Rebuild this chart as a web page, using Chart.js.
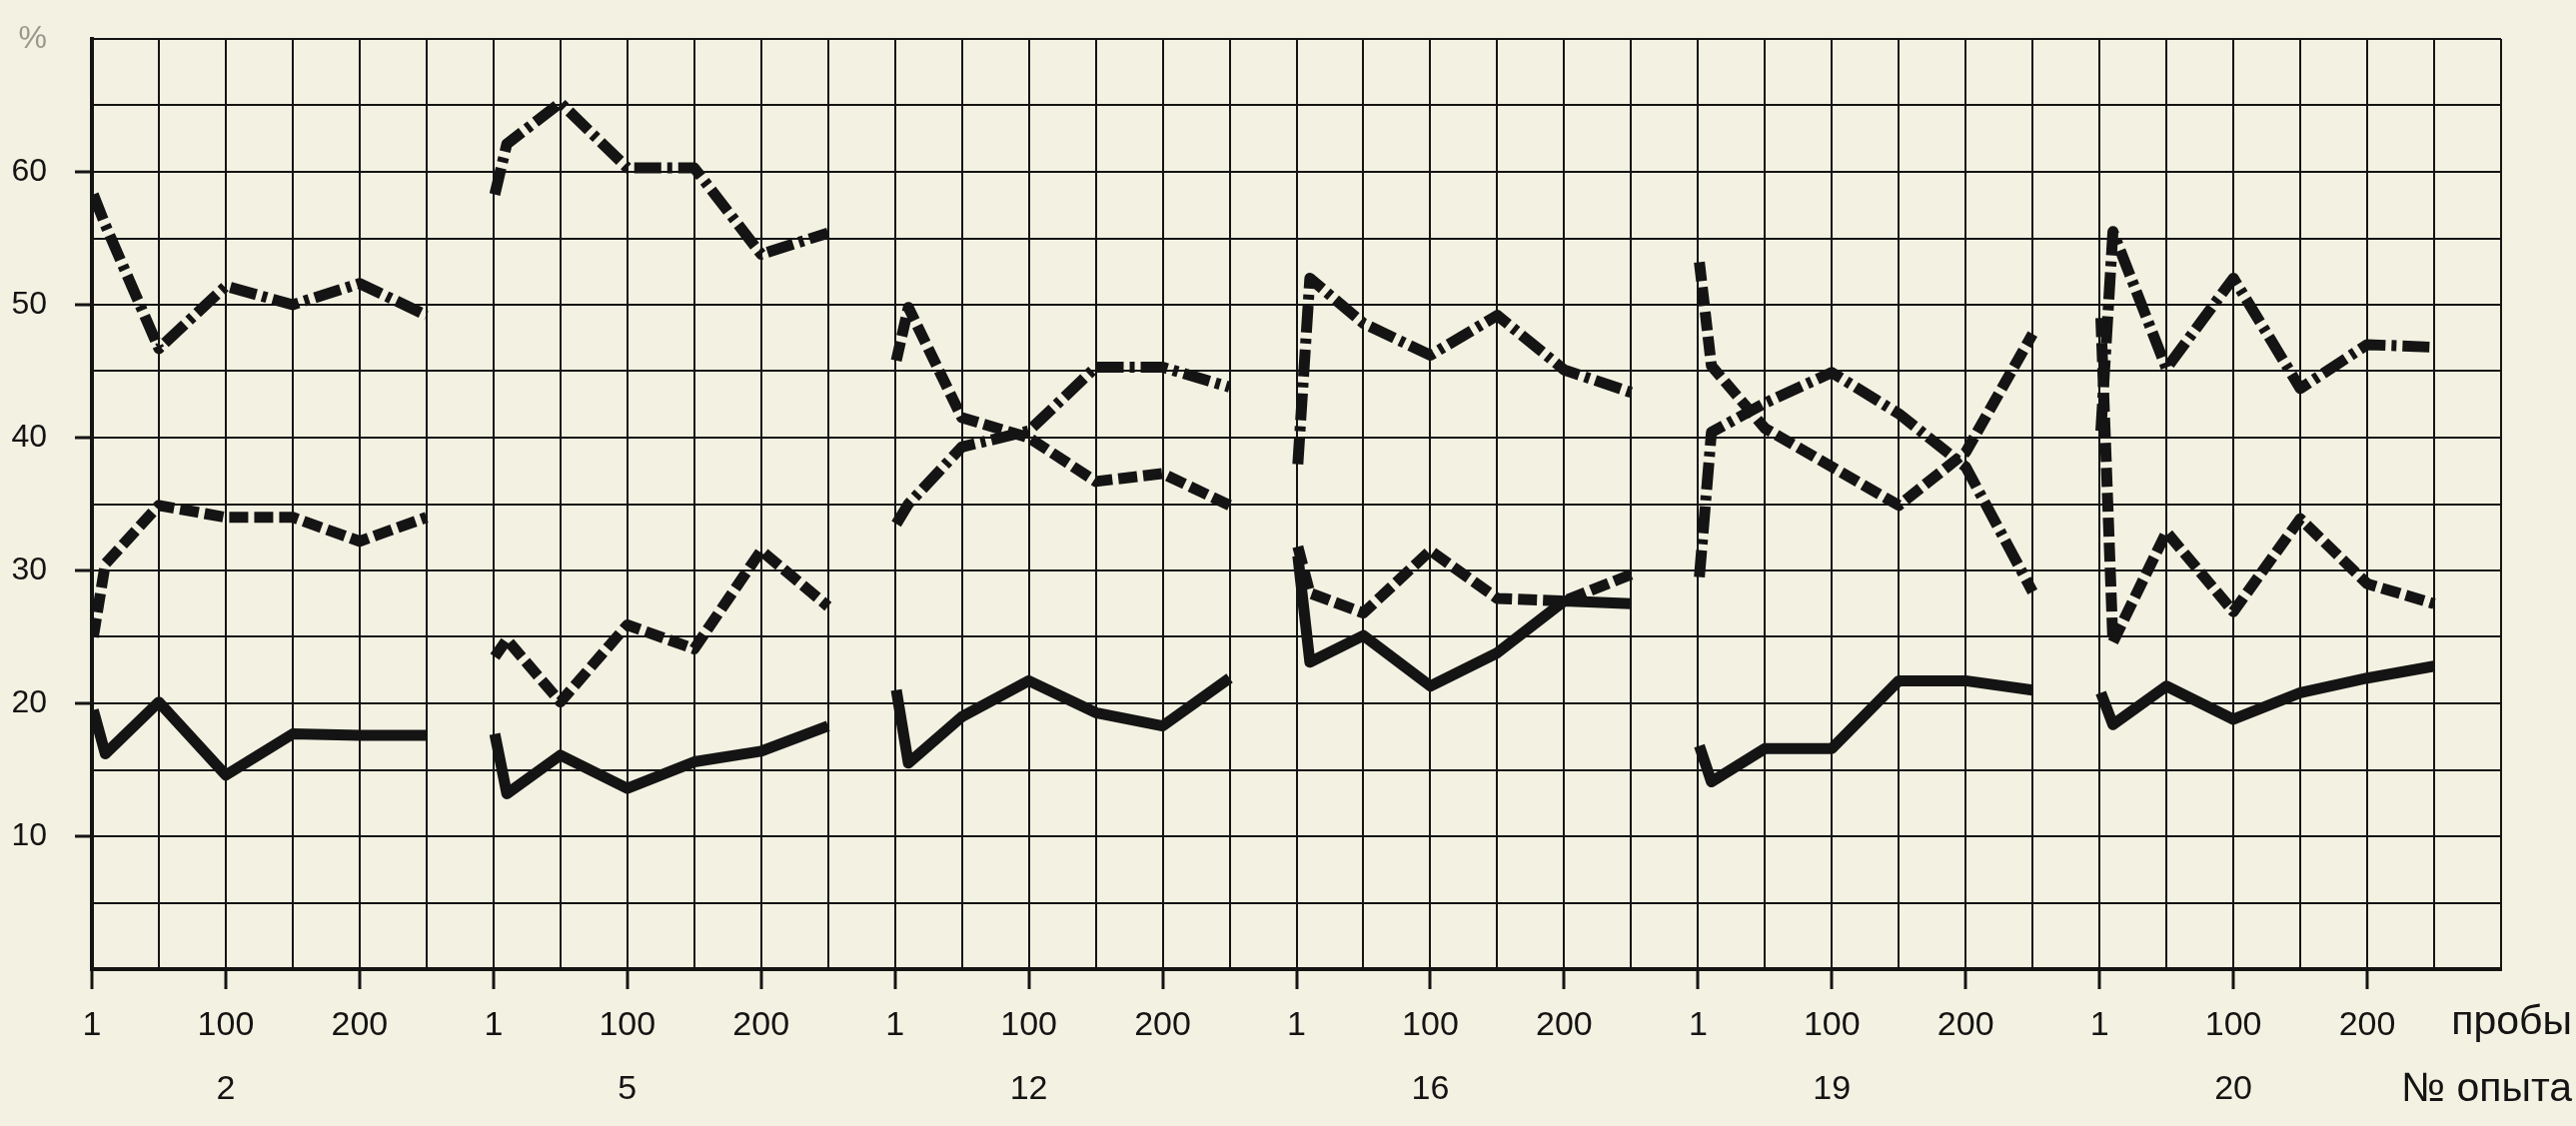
<!DOCTYPE html>
<html>
<head>
<meta charset="utf-8">
<script src="https://cdn.jsdelivr.net/npm/chart.js@4/dist/chart.umd.min.js"></script>
<style>
  html, body { margin: 0; padding: 0; background: #f3f1e1; }
  #chart { display: block; }
</style>
</head>
<body>
<canvas id="chart" width="2578" height="1127"></canvas>
<script>
// experiment numbers (groups along the x axis)
const experiments = ['2', '5', '12', '16', '19', '20'];
// trial numbers where each curve has a point
const trials = [1, 10, 50, 100, 150, 200, 250];
// trial tick labels inside each group
const trialTicks = { 0: '1', 100: '100', 200: '200' };
const groupSpan = 300;

// values, % (one row per experiment, one column per trial)
const solidLine = [
  [19.5, 16.2, 20.1, 14.6, 17.7, 17.6, 17.6],
  [17.7, 13.2, 16.1, 13.6, 15.6, 16.4, 18.3],
  [21.0, 15.5, 19.0, 21.7, 19.3, 18.3, 21.9],
  [31.1, 23.1, 25.1, 21.3, 23.8, 27.7, 27.5],
  [16.8, 14.1, 16.6, 16.6, 21.7, 21.7, 21.0],
  [20.8, 18.4, 21.3, 18.8, 20.8, 21.9, 22.8]
];
const dashedLine = [
  [25.0, 30.5, 34.9, 34.0, 34.0, 32.2, 34.0],
  [23.5, 24.8, 20.1, 25.9, 24.1, 31.5, 27.3],
  [45.8, 49.8, 41.5, 40.0, 36.7, 37.3, 34.9],
  [31.8, 28.3, 26.8, 31.5, 27.9, 27.7, 29.7],
  [53.2, 45.4, 40.7, 37.8, 34.9, 38.9, 47.8],
  [49.0, 24.6, 32.9, 26.9, 33.9, 29.0, 27.5]
];
const dashDotLine = [
  [58.3, 56.0, 46.7, 51.4, 50.0, 51.6, 49.2],
  [58.3, 62.1, 65.2, 60.3, 60.3, 53.8, 55.4],
  [33.5, 35.0, 39.3, 40.5, 45.3, 45.3, 43.8],
  [38.0, 52.0, 48.6, 46.2, 49.2, 45.1, 43.4],
  [29.5, 40.4, 42.6, 44.9, 41.8, 37.8, 28.4],
  [40.5, 55.5, 45.2, 52.0, 43.7, 47.0, 46.8]
];

const ink = '#141414';
const paper = '#f3f1e1';

const styles = [
  { name: 'solid', rows: solidLine, dash: [] },
  { name: 'dashed', rows: dashedLine, dash: [19, 6] },
  { name: 'dash-dot', rows: dashDotLine, dash: [27, 6, 5, 6] }
];

// one dataset per experiment and line style so the groups are not joined
const datasets = [];
experiments.forEach((exp, g) => {
  styles.forEach(s => {
    datasets.push({
      label: exp + ' ' + s.name,
      data: trials.map((t, i) => ({ x: g * groupSpan + t, y: s.rows[g][i] })),
      borderColor: ink,
      borderWidth: 11,
      borderDash: s.dash,
      borderCapStyle: 'butt',
      borderJoinStyle: 'round',
      pointRadius: 0,
      tension: 0,
      fill: false
    });
  });
});

const paperBg = {
  id: 'paperBg',
  beforeDraw(chart) {
    const ctx = chart.ctx;
    ctx.save();
    ctx.fillStyle = paper;
    ctx.fillRect(0, 0, chart.width, chart.height);
    ctx.restore();
  }
};

// axis captions to the right of the tick rows
const captions = {
  id: 'captions',
  afterDraw(chart) {
    const ctx = chart.ctx;
    ctx.save();
    ctx.fillStyle = ink;
    ctx.font = '41px "Liberation Sans", Arial, sans-serif';
    ctx.textAlign = 'right';
    ctx.textBaseline = 'middle';
    ctx.fillText('пробы', chart.width - 4, 1024);
    ctx.fillText('№ опыта', chart.width - 4, 1091);
    ctx.restore();
  }
};

const tickFont = { family: '"Liberation Sans", Arial, sans-serif', size: 34, lineHeight: 1.9 };

new Chart(document.getElementById('chart'), {
  type: 'line',
  data: { datasets: datasets },
  plugins: [paperBg, captions],
  options: {
    responsive: false,
    animation: false,
    devicePixelRatio: 1,
    layout: { padding: { top: 39, right: 75, left: 0, bottom: 0 } },
    plugins: { legend: { display: false }, tooltip: { enabled: false } },
    scales: {
      x: {
        type: 'linear',
        min: 0,
        max: groupSpan * experiments.length,
        afterFit: scale => { scale.height = 157; },
        border: { color: ink, width: 4 },
        grid: {
          color: ink,
          lineWidth: 2,
          tickLength: 20,
          tickWidth: 3,
          tickColor: ctx => {
            const v = ctx.tick ? ctx.tick.value : -1;
            return (v < groupSpan * experiments.length && (v % groupSpan) in trialTicks) ? ink : 'rgba(0,0,0,0)';
          }
        },
        ticks: {
          stepSize: 50,
          autoSkip: false,
          maxRotation: 0,
          padding: 4,
          color: ink,
          font: tickFont,
          callback: v => {
            if (v >= groupSpan * experiments.length) return '';
            const r = v % groupSpan;
            const g = Math.floor(v / groupSpan);
            if (r === 100) return ['100', experiments[g]];
            return trialTicks[r] || '';
          }
        }
      },
      y: {
        min: 0,
        max: 70,
        afterFit: scale => {
          // fixed axis width; the plot top is set by layout padding only
          scale.width = 92;
          scale.paddingTop = 0;
          scale.paddingBottom = 0;
        },
        border: { color: ink, width: 4 },
        grid: {
          color: ink,
          lineWidth: 2,
          tickLength: 17,
          tickWidth: 3,
          tickColor: ctx => {
            const v = ctx.tick ? ctx.tick.value : 0;
            return (v % 10 === 0 && v > 0 && v < 70) ? ink : 'rgba(0,0,0,0)';
          }
        },
        ticks: {
          stepSize: 5,
          padding: 28,
          color: ctx => (ctx.tick && ctx.tick.value === 70) ? '#9a988c' : ink,
          font: { family: '"Liberation Sans", Arial, sans-serif', size: 32 },
          callback: v => {
            if (v === 70) return '%';
            return (v % 10 === 0 && v > 0) ? String(v) : '';
          }
        }
      }
    }
  }
});
</script>
</body>
</html>
